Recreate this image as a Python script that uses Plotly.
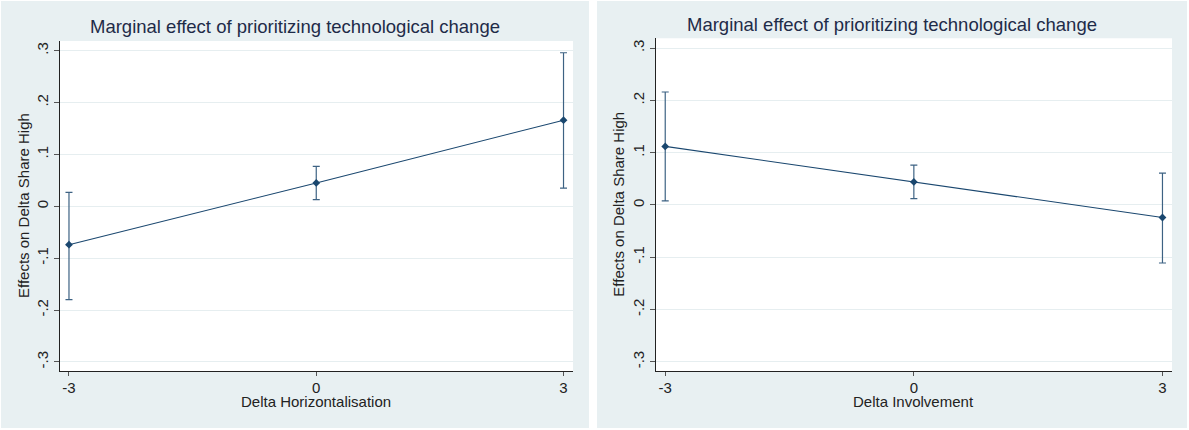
import plotly.graph_objects as go

W, H = 1189, 430

# ---- data ----
title_text = "Marginal effect of prioritizing technological change"
y_title = "Effects on Delta Share High"
x_vals = [-3, 0, 3]
x_ticktext = ["-3", "0", "3"]
y_tickvals = [0.3, 0.2, 0.1, 0.0, -0.1, -0.2, -0.3]
y_ticktext = [".3", ".2", ".1", "0", "-.1", "-.2", "-.3"]

left_xlabel = "Delta Horizontalisation"
left_est = [-0.074, 0.045, 0.166]
left_lo = [-0.180, 0.013, 0.035]
left_hi = [0.027, 0.077, 0.296]

right_xlabel = "Delta Involvement"
right_est = [0.112, 0.044, -0.024]
right_lo = [0.008, 0.012, -0.111]
right_hi = [0.216, 0.076, 0.061]

# ---- style ----
FONT = "Liberation Sans, Arial, sans-serif"
PANEL_BG = "#e8f0f2"
GRID = "#e6eef0"
LINE_C = "#1a476f"
CI_C = "#3d6283"


def px_x(v):
    return v / W


def px_y(v):
    return 1 - v / H


fig = go.Figure()

panels = [
    dict(est=left_est, lo=left_lo, hi=left_hi, xlabel=left_xlabel,
         xa="x", ya="y", box=(1, 589, 1, 428), plot=(59.5, 573, 41, 371),
         title_y=27, ytitle_x=23, xtitle_y=401),
    dict(est=right_est, lo=right_lo, hi=right_hi, xlabel=right_xlabel,
         xa="x2", ya="y2", box=(597, 1187, 1, 428), plot=(655.7, 1172, 38.3, 371),
         title_y=25, ytitle_x=619, xtitle_y=401),
]

shapes = []
annotations = []
for i, p in enumerate(panels):
    est, lo, hi = p["est"], p["lo"], p["hi"]
    fig.add_trace(go.Scatter(
        x=x_vals, y=est, mode="lines+markers",
        xaxis=p["xa"], yaxis=p["ya"],
        line=dict(color=LINE_C, width=1.1),
        marker=dict(symbol="diamond", size=6, color=LINE_C),
        error_y=dict(type="data", symmetric=False,
                     array=[h - e for h, e in zip(hi, est)],
                     arrayminus=[e - l for e, l in zip(est, lo)],
                     color=CI_C, thickness=1.2, width=3.5),
        showlegend=False, hoverinfo="skip",
    ))
    x0, x1, y0, y1 = p["box"]
    shapes.append(dict(type="rect", xref="paper", yref="paper",
                       x0=px_x(x0), x1=px_x(x1), y0=px_y(y1), y1=px_y(y0),
                       fillcolor=PANEL_BG, line=dict(width=0), layer="below"))
    suffix = "" if i == 0 else "2"
    shapes.append(dict(type="rect", xref=f"x{suffix} domain", yref=f"y{suffix} domain",
                       x0=0, x1=1, y0=0, y1=1,
                       fillcolor="white", line=dict(width=0), layer="below"))
    annotations.append(dict(text=title_text, xref="paper", yref="paper",
                            x=px_x((x0 + x1) / 2), y=px_y(p["title_y"]),
                            xanchor="center", yanchor="middle", showarrow=False,
                            font=dict(family=FONT, size=18.5, color="#1e2b48")))
    annotations.append(dict(text=y_title, xref="paper", yref="paper",
                            x=px_x(p["ytitle_x"]), y=px_y((p["plot"][2] + p["plot"][3]) / 2 + 0),
                            xanchor="center", yanchor="middle", textangle=-90, showarrow=False,
                            font=dict(family=FONT, size=15, color="#222222")))
    annotations.append(dict(text=p["xlabel"], xref="paper", yref="paper",
                            x=px_x((p["plot"][0] + p["plot"][1]) / 2), y=px_y(p["xtitle_y"]),
                            xanchor="center", yanchor="middle", showarrow=False,
                            font=dict(family=FONT, size=15, color="#222222")))

common_x = dict(range=[-3.115, 3.115], tickvals=x_vals, ticktext=x_ticktext,
                ticks="outside", ticklen=4, tickcolor="#555555", tickwidth=1,
                ticklabelstandoff=-1,
                showline=True, linecolor="#222222", linewidth=1, mirror=False,
                showgrid=False, zeroline=False,
                tickfont=dict(family=FONT, size=15, color="#222222"))
common_y = dict(range=[-0.3175, 0.3187], tickvals=y_tickvals, ticktext=y_ticktext,
                ticks="outside", ticklen=5, tickcolor="#555555", tickwidth=1,
                showline=True, linecolor="#222222", linewidth=1, mirror=False,
                showgrid=True, gridcolor=GRID, gridwidth=1, zeroline=False,
                tickangle=-90,
                tickfont=dict(family=FONT, size=15, color="#222222"))

lp, rp = panels[0]["plot"], panels[1]["plot"]
fig.update_layout(
    width=W, height=H, margin=dict(l=0, r=0, t=0, b=0),
    paper_bgcolor="white", plot_bgcolor="white",
    xaxis=dict(common_x, domain=[px_x(lp[0]), px_x(lp[1])], anchor="y"),
    yaxis=dict(common_y, domain=[px_y(lp[3]), px_y(lp[2])], anchor="x"),
    xaxis2=dict(common_x, domain=[px_x(rp[0]), px_x(rp[1])], anchor="y2"),
    yaxis2=dict(common_y, domain=[px_y(rp[3]), px_y(rp[2])], anchor="x2"),
    shapes=shapes, annotations=annotations,
    font=dict(family=FONT),
)

fig.write_html("out.html", config={"displayModeBar": False},
               post_script="document.body.style.margin='0';")
